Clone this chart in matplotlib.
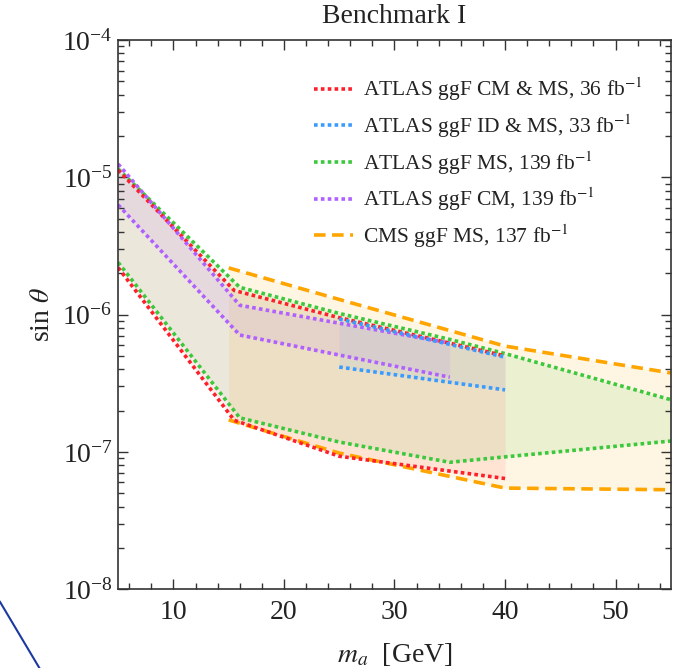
import matplotlib
matplotlib.use('Agg')
from matplotlib import pyplot as plt
from matplotlib.lines import Line2D
from matplotlib.ticker import MultipleLocator, LogLocator, NullFormatter

plt.rcParams['font.family'] = ['Liberation Serif', 'DejaVu Serif']
plt.rcParams['mathtext.fontset'] = 'stix'

# band edges: (mass points, lower bound, upper bound)
RED_X = [5, 15.5, 25, 40]
RED_LO = [2.2e-6, 1.7e-7, 9.3e-8, 6.4e-8]
RED_HI = [1.13e-5, 1.5e-6, 9.5e-7, 5.0e-7]

BLUE_X = [25, 40]
BLUE_LO = [4.15e-7, 2.83e-7]
BLUE_HI = [9.3e-7, 4.9e-7]

GREEN_X = [5, 16, 25, 35, 40, 55]
GREEN_LO = [2.4e-6, 1.77e-7, 1.18e-7, 8.4e-8, 9.2e-8, 1.2e-7]
GREEN_HI = [1.15e-5, 1.58e-6, 1.02e-6, 6.6e-7, 5.2e-7, 2.4e-7]

PURPLE_X = [5, 16, 35]
PURPLE_LO = [6.3e-6, 7.1e-7, 3.5e-7]
PURPLE_HI = [1.25e-5, 1.17e-6, 6.2e-7]

ORANGE_X = [15, 25, 40, 55]
ORANGE_LO = [1.71e-7, 9.8e-8, 5.45e-8, 5.3e-8]
ORANGE_HI = [2.19e-6, 1.29e-6, 5.9e-7, 3.76e-7]

LABELS = [r'ATLAS ggF CM & MS, 36 fb$^{-1}$',
          r'ATLAS ggF ID & MS, 33 fb$^{-1}$',
          r'ATLAS ggF MS, 139 fb$^{-1}$',
          r'ATLAS ggF CM, 139 fb$^{-1}$',
          r'CMS ggF MS, 137 fb$^{-1}$']

RED = '#ff1f2a'
BLUE = '#3a9bff'
GREEN = '#3cc83c'
PURPLE = '#b060ff'
ORANGE = '#ffa500'


def draw_band(ax, x, lo, hi, color, label, ls, fill_alpha):
    ax.fill_between(x, lo, hi, color=color, alpha=fill_alpha, lw=0)
    ax.plot(x, hi, color=color, ls=ls, lw=2.6, label=label,
            dash_capstyle='butt')
    ax.plot(x, lo, color=color, ls=ls, lw=2.6, dash_capstyle='butt')


def main():
    fig = plt.figure(figsize=(6.79, 6.68), dpi=100)
    ax = fig.add_axes([0.174, 0.118, 0.814, 0.822])

    dot = (0, (1.0, 0.9))
    dash = (0, (3.2, 1.8))
    draw_band(ax, ORANGE_X, ORANGE_LO, ORANGE_HI, ORANGE, LABELS[4], dash, 0.11)
    draw_band(ax, GREEN_X, GREEN_LO, GREEN_HI, GREEN, LABELS[2], dot, 0.10)
    draw_band(ax, RED_X, RED_LO, RED_HI, RED, LABELS[0], dot, 0.08)
    draw_band(ax, PURPLE_X, PURPLE_LO, PURPLE_HI, PURPLE, LABELS[3], dot, 0.10)
    draw_band(ax, BLUE_X, BLUE_LO, BLUE_HI, BLUE, LABELS[1], dot, 0.08)

    ax.set_yscale('log')
    ax.set_xlim(5, 55)
    ax.set_ylim(1e-8, 1e-4)
    ax.xaxis.set_major_locator(MultipleLocator(10))
    ax.xaxis.set_minor_locator(MultipleLocator(2))
    ax.yaxis.set_major_locator(LogLocator(base=10, numticks=10))
    ax.yaxis.set_minor_locator(LogLocator(base=10, subs=range(2, 10), numticks=10))
    ax.yaxis.set_minor_formatter(NullFormatter())
    ax.tick_params(which='both', direction='in', top=True, right=True,
                   labelsize=20, width=1.0, color='#333333', labelcolor='#222222')
    ax.tick_params(which='major', length=7)
    ax.tick_params(which='minor', length=4)
    ax.tick_params(axis='x', pad=8)
    ax.tick_params(axis='y', pad=4)
    for s in ax.spines.values():
        s.set_linewidth(1.2)
        s.set_color('#333333')

    ax.set_title('Benchmark I', fontsize=20, pad=12, color='#222222')
    ax.set_xlabel(r'$m_a$  [GeV]', fontsize=20, labelpad=11, color='#222222')
    ax.set_ylabel(r'sin $\theta$', fontsize=20, labelpad=5, color='#222222')

    handles, labels = ax.get_legend_handles_labels()
    order = [labels.index(l) for l in LABELS]
    ax.legend([handles[i] for i in order], [labels[i] for i in order],
              loc='upper right', frameon=False, fontsize=15.5,
              handlelength=1.8, labelspacing=0.42, handletextpad=0.5,
              bbox_to_anchor=(0.985, 0.97), labelcolor='#222222')

    # stray pen stroke seen in the lower-left of the screenshot
    fig.add_artist(Line2D([0.0, 0.058], [0.099, 0.0], color='#1a3aa0', lw=1.5,
                          transform=fig.transFigure))

    fig.savefig('out.png', dpi=100)


if __name__ == '__main__':
    main()
